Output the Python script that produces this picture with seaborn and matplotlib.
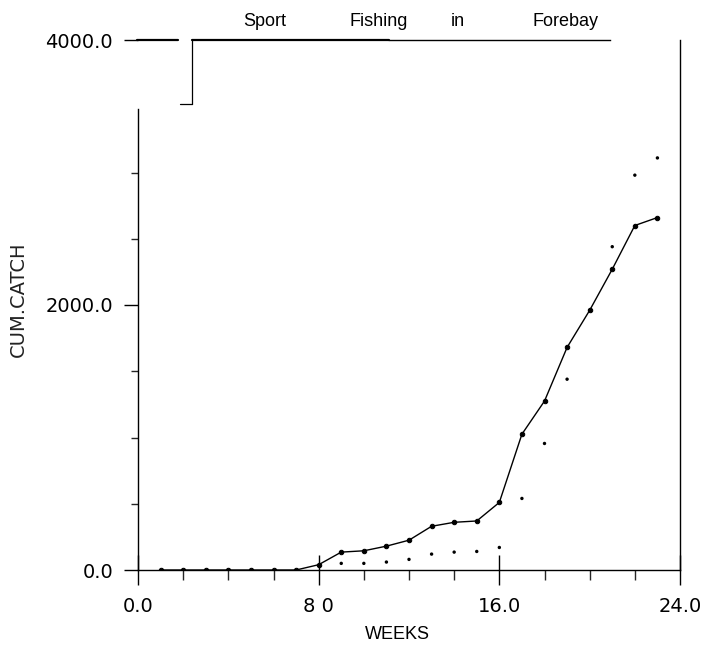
import matplotlib
matplotlib.use("Agg")
import matplotlib.pyplot as plt
import seaborn as sns
import numpy as np

# ---- data ----
weeks = list(range(1, 24))
cum_catch = [0, 0, 0, 0, 0, 0, 0, 40, 135, 145, 180, 225, 330, 360, 370,
             510, 1025, 1275, 1680, 1960, 2270, 2600, 2660]
dot_weeks = list(range(9, 24))
dot_catch = [50, 50, 60, 80, 120, 135, 140, 170, 540, 955, 1440, 1960,
             2440, 2980, 3110]

x_major = [0, 8, 16, 24]
x_major_labels = ["0.0", "8 0", "16.0", "24.0"]
x_minor = list(range(0, 25, 2))
y_major = [0, 2000, 4000]
y_major_labels = ["0.0", "2000.0", "4000.0"]
y_minor = [500, 1000, 1500, 2500, 3000]

title_words = ["Sport", "Fishing", "in", "Forebay"]

sns.set_style("white")
plt.rcParams["font.family"] = ["DejaVu Sans"]

W, H = 706, 646
fig = plt.figure(figsize=(W / 100, H / 100), dpi=100)
ax = fig.add_axes([138 / W, 1 - 570 / H, (680 - 138) / W, (570 - 40) / H])

sns.lineplot(x=weeks, y=cum_catch, ax=ax, color="black", linewidth=1.0,
             marker="o", markersize=3.2, markeredgecolor="black")
sns.scatterplot(x=dot_weeks, y=dot_catch, ax=ax, color="black", s=6,
                edgecolor="none")

ax.set_xlim(0, 24)
ax.set_ylim(0, 4000)

# spines like the old plotter frame
for s in ax.spines.values():
    s.set_color("black")
    s.set_linewidth(1.0)
ax.spines["left"].set_bounds(0, 3480)
ax.spines["top"].set_bounds(11.1, 20.9)
ax.spines["top"].set_linewidth(1.0)

# frame fragments near top-left
ax.plot([2.4, 11.1], [4000, 4000], color="black", lw=1.6, clip_on=False)
ax.plot([2.4, 2.4], [3520, 4000], color="black", lw=0.9, clip_on=False)
ax.plot([1.85, 2.4], [3520, 3520], color="black", lw=0.9, clip_on=False)
ax.plot([-0.05, 1.75], [4000, 4000], color="black", lw=1.6, clip_on=False)

# ticks
ax.set_xticks(x_major)
ax.set_xticklabels(x_major_labels)
ax.set_xticks(x_minor, minor=True)
ax.set_yticks(y_major)
ax.set_yticklabels(y_major_labels)
ax.set_yticks(y_minor, minor=True)

ax.tick_params(axis="x", which="major", direction="inout", length=21,
               width=1.0, pad=9, labelsize=14, colors="black")
ax.tick_params(axis="x", which="minor", direction="out", length=7,
               width=1.0)
ax.tick_params(axis="y", which="major", direction="out", length=10,
               width=1.0, pad=8, labelsize=14, colors="black")
ax.tick_params(axis="y", which="minor", direction="out", length=5,
               width=1.0)
ax.tick_params(which="both", bottom=True, left=True, top=False, right=False)

ax.set_xlabel("WEEKS", fontsize=13, family="Liberation Sans", color="black")
ax.xaxis.set_label_coords(0.478, -0.105)
ax.set_ylabel("CUM.CATCH", fontsize=14, color="#222222")
ax.yaxis.set_label_coords(-0.203, 0.51)

# title, words spaced as in the reference
for word, xc in zip(title_words, [265, 379, 458, 566]):
    fig.text(xc / W, 1 - 22 / H, word, ha="center", va="center",
             fontsize=13, family="Liberation Sans", color="black")

fig.savefig("out.png", dpi=100, facecolor="white")
